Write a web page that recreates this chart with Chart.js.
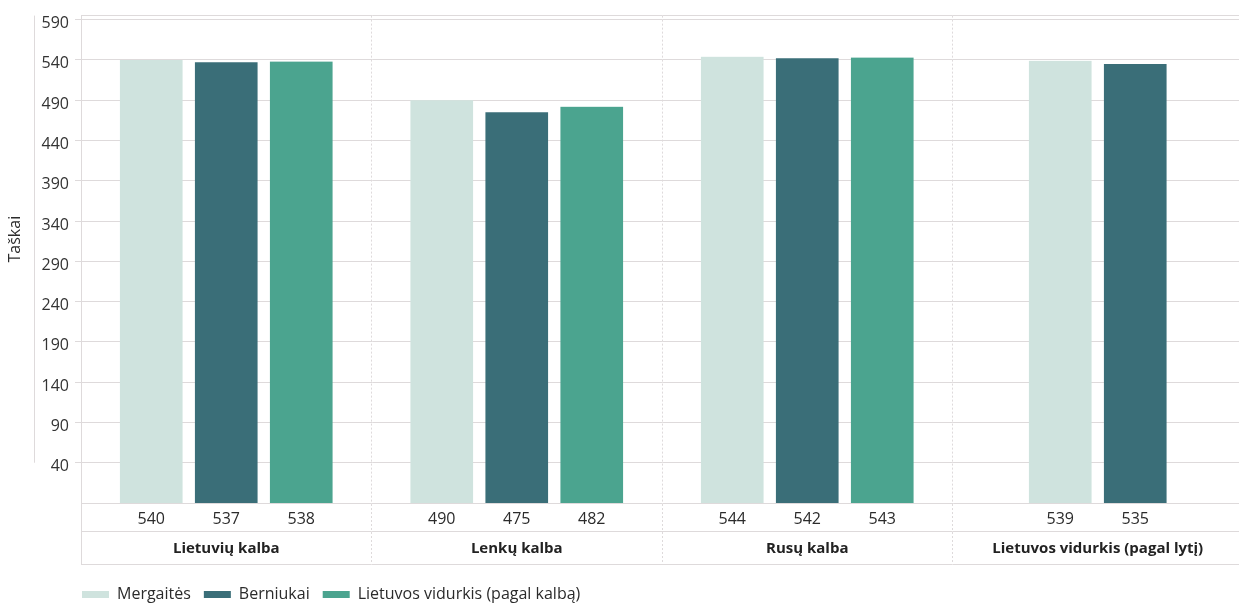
<!DOCTYPE html>
<html lang="lt">
<head>
<meta charset="UTF-8">
<title>Taškai pagal mokomąją kalbą ir lytį</title>
<script src="https://cdn.jsdelivr.net/npm/chart.js@4/dist/chart.umd.min.js"></script>
<style>
  html, body { margin: 0; padding: 0; background: #fff; overflow: hidden; }
  .wrap { width: 1243px; height: 604px; position: relative; }
</style>
</head>
<body>
<div class="wrap"><canvas id="chart"></canvas></div>
<script>
// categories and series
const categories = ['Lietuvių kalba', 'Lenkų kalba', 'Rusų kalba', 'Lietuvos vidurkis (pagal lytį)'];
const seriesNames = ['Mergaitės', 'Berniukai', 'Lietuvos vidurkis (pagal kalbą)'];
const mergaites = [540, 490, 544, 539];
const berniukai = [537, 475, 542, 535];
const vidurkis = [538, 482, 543, null];

// value axis
const yTicks = [40, 90, 140, 190, 240, 290, 340, 390, 440, 490, 540, 590];
const yMin = -10;
const yMax = 595;
const axisTitle = 'Taškai';

const colors = ['#cfe3de', '#3a6e78', '#4ba48f'];
const gridColor = '#dedadb';
const textColor = '#2b2b2b';
const FONT = '"Open Sans", "Noto Sans", sans-serif';

Chart.defaults.font.family = FONT;
Chart.defaults.font.size = 16;
Chart.defaults.color = textColor;

// rows under the plot (values + categories), left axis line, title and legend
const tablePlugin = {
    id: 'tableRows',
    afterDraw(chart) {
        const { ctx, chartArea: a, scales: { y } } = chart;
        const b = a.bottom;
        ctx.save();

        // horizontal rules of the table
        ctx.strokeStyle = gridColor;
        ctx.lineWidth = 1;
        [28, 61].forEach(dy => {
            const yy = Math.round(b + dy) + 0.5;
            ctx.beginPath();
            ctx.moveTo(a.left, yy);
            ctx.lineTo(chart.width, yy);
            ctx.stroke();
        });

        // thin line left of the tick labels
        ctx.beginPath();
        ctx.moveTo(34.5, a.top);
        ctx.lineTo(34.5, y.getPixelForValue(yTicks[0]));
        ctx.stroke();

        // axis title
        ctx.fillStyle = textColor;
        ctx.font = '16px ' + FONT;
        ctx.textAlign = 'center';
        ctx.textBaseline = 'middle';
        ctx.save();
        ctx.translate(15, (a.top + y.getPixelForValue(yTicks[0])) / 2);
        ctx.rotate(-Math.PI / 2);
        ctx.fillText(axisTitle, 0, 0);
        ctx.restore();

        // values under each bar
        chart.data.datasets.forEach((ds, i) => {
            chart.getDatasetMeta(i).data.forEach((bar, j) => {
                if (ds.data[j] == null) return;
                ctx.fillText(String(ds.data[j]), bar.x, b + 16);
            });
        });

        // legend
        let lx = 82;
        const ly = 594;
        ctx.textAlign = 'left';
        chart.data.datasets.forEach(ds => {
            ctx.fillStyle = ds.backgroundColor;
            ctx.fillRect(lx, ly - 3, 27, 7);
            ctx.fillStyle = textColor;
            ctx.fillText(ds.label, lx + 35, ly);
            lx += 35 + ctx.measureText(ds.label).width + 13;
        });

        ctx.restore();
    }
};

new Chart(document.getElementById('chart'), {
    type: 'bar',
    data: {
        labels: categories,
        datasets: [
            { label: seriesNames[0], data: mergaites, backgroundColor: colors[0] },
            { label: seriesNames[1], data: berniukai, backgroundColor: colors[1] },
            { label: seriesNames[2], data: vidurkis, backgroundColor: colors[2] }
        ]
    },
    options: {
        responsive: true,
        maintainAspectRatio: false,
        animation: false,
        events: [],
        layout: { padding: { top: 15, right: 0, bottom: 40, left: 0 } },
        datasets: {
            bar: {
                skipNull: true,
                base: yMin,
                barThickness: 75,
                borderWidth: { left: 6.5, right: 6.5, top: 0, bottom: 0 },
                borderColor: 'rgba(0,0,0,0)'
            }
        },
        plugins: {
            legend: { display: false },
            tooltip: { enabled: false }
        },
        scales: {
            x: {
                afterFit: s => { s.height = 61; },
                grid: {
                    color: gridColor,
                    tickColor: gridColor,
                    tickLength: 61,
                    tickBorderDash: c => c.index === 0 ? [] : [2, 2]
                },
                border: {
                    color: gridColor,
                    dash: c => c.index === 0 ? [] : [2, 2]
                },
                ticks: {
                    padding: -24,
                    maxRotation: 0,
                    autoSkip: false,
                    color: '#222',
                    font: { weight: 'bold', size: 15 }
                }
            },
            y: {
                min: yMin,
                max: yMax,
                afterFit: s => { s.width = 81; },
                afterBuildTicks: s => {
                    s.ticks = yTicks.concat([yMax]).map(v => ({ value: v }));
                },
                grid: {
                    color: gridColor,
                    tickLength: 6,
                    tickColor: c => (c.tick && c.tick.value === yMax) ? 'rgba(0,0,0,0)' : gridColor
                },
                border: { color: gridColor },
                ticks: {
                    padding: 6,
                    labelOffset: 4,
                    color: '#333',
                    callback: v => v === yMax ? '' : v
                }
            }
        }
    },
    plugins: [tablePlugin]
});
</script>
</body>
</html>
